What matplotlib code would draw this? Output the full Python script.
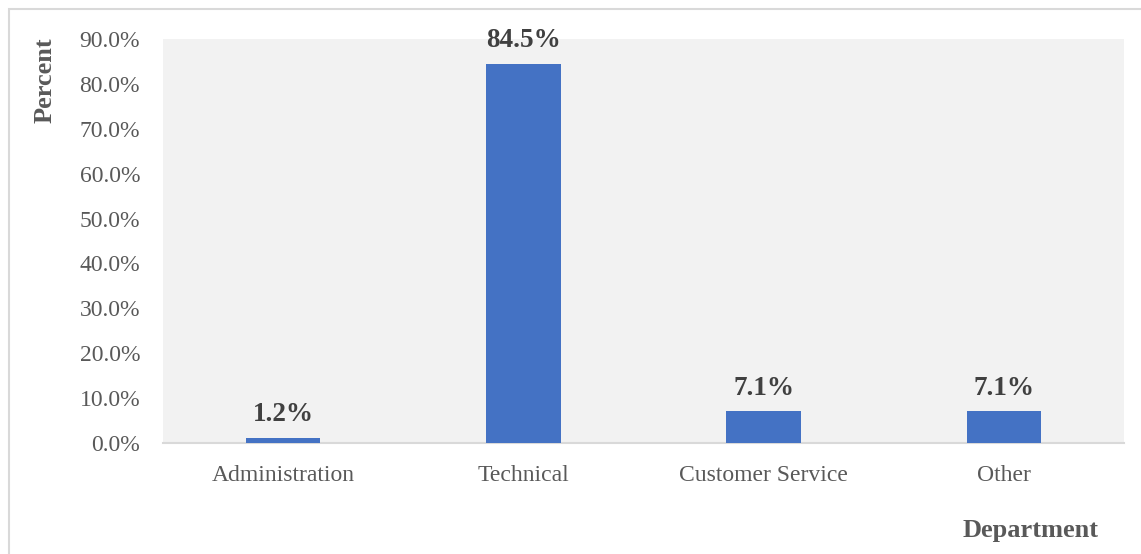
import matplotlib
matplotlib.use("Agg")
import matplotlib.pyplot as plt
from matplotlib.patches import Rectangle

categories = ["Administration", "Technical", "Customer Service", "Other"]
percent = [1.2, 84.5, 7.1, 7.1]
yticks = [0, 10, 20, 30, 40, 50, 60, 70, 80, 90]

plt.rcParams["font.family"] = ["Liberation Serif", "DejaVu Serif"]

W, H = 1141, 554
fig = plt.figure(figsize=(W / 100, H / 100), dpi=100)

# outer chart border
fig.patches.append(Rectangle((9 / W, -0.1), 1.2, 1 - 9 / H + 0.1, transform=fig.transFigure,
                             fill=False, edgecolor="#D9D9D9", linewidth=1.5))

left, right, top, bottom = 163, 1124, 39, 443
ax = fig.add_axes([left / W, 1 - bottom / H, (right - left) / W, (bottom - top) / H])
ax.set_facecolor("#F2F2F2")

x = range(len(categories))
bars = ax.bar(x, percent, width=0.31, color="#4472C4", zorder=3)
ax.set_xlim(-0.5, len(categories) - 0.5)
ax.set_ylim(0, 90)
ax.set_yticks(yticks)
ax.set_yticklabels([f"{v:.1f}%" for v in yticks])
ax.set_xticks(list(x))
ax.set_xticklabels(categories)

for s in ["top", "right", "left"]:
    ax.spines[s].set_visible(False)
ax.spines["bottom"].set_color("#D9D9D9")
ax.spines["bottom"].set_linewidth(1.5)
ax.tick_params(axis="both", length=0, colors="#595959", labelsize=17)
ax.tick_params(axis="y", pad=16.5)
ax.tick_params(axis="x", pad=15.5)

for b, v in zip(bars, percent):
    ax.annotate(f"{v:.1f}%", (b.get_x() + b.get_width() / 2, v), xytext=(0, 7.5),
                textcoords="offset points", ha="center", va="bottom",
                fontsize=19.5, fontweight="bold", color="#404040")

fig.text(45 / W, 1 - 80 / H, "Percent", rotation=90, ha="center", va="center",
         fontsize=19, fontweight="bold", color="#595959")
fig.text(1031 / W, 1 - 530 / H, "Department", ha="center", va="center",
         fontsize=19, fontweight="bold", color="#595959")

fig.savefig("out.png", dpi=100)
